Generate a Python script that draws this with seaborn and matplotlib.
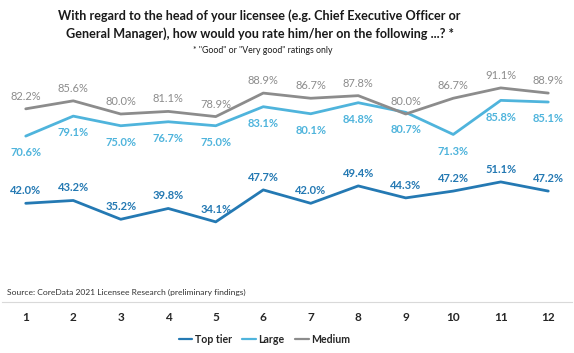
import pandas as pd
import matplotlib.pyplot as plt
import seaborn as sns

# values
questions = [str(i) for i in range(1, 13)]
top_tier = [42.0, 43.2, 35.2, 39.8, 34.1, 47.7, 42.0, 49.4, 44.3, 47.2, 51.1, 47.2]
large = [70.6, 79.1, 75.0, 76.7, 75.0, 83.1, 80.1, 84.8, 80.7, 71.3, 85.8, 85.1]
medium = [82.2, 85.6, 80.0, 81.1, 78.9, 88.9, 86.7, 87.8, 80.0, 86.7, 91.1, 88.9]

series = {"Top tier": top_tier, "Large": large, "Medium": medium}
colors = {"Top tier": "#2479b3", "Large": "#4fb4dc", "Medium": "#8c8c8c"}
label_offset = {"Top tier": 9, "Large": -12, "Medium": 9}

df = pd.DataFrame([
    {"Question": q, "Group": g, "Pct": v}
    for g, vals in series.items() for q, v in zip(questions, vals)
])

sns.set_style("white")
plt.rcParams["font.family"] = ["Lato", "DejaVu Sans"]

fig = plt.figure(figsize=(5.74, 3.53), dpi=100)
ax = fig.add_axes([2 / 574, 51 / 353, 570 / 574, 235 / 353])

sns.lineplot(data=df, x="Question", y="Pct", hue="Group", palette=colors,
             linewidth=2, sort=False, ax=ax, legend=True)

# data labels
for g, vals in series.items():
    for i, v in enumerate(vals):
        ax.annotate(f"{v:.1f}%", (i, v), xytext=(0, label_offset[g]),
                    textcoords="offset points", ha="center", va="center",
                    fontsize=8, color=colors[g],
                    fontweight="bold" if g != "Medium" else "normal")

ax.set_xlim(-0.5, 11.5)
ax.set_ylim(0, 100)
ax.set_yticks([])
ax.set_xlabel("")
ax.set_ylabel("")
for side in ["top", "left", "right"]:
    ax.spines[side].set_visible(False)
ax.spines["bottom"].set_color("#d9d9d9")
ax.spines["bottom"].set_linewidth(0.8)
ax.tick_params(axis="x", length=0, pad=7)
for t in ax.get_xticklabels():
    t.set_fontweight("bold")
    t.set_fontsize(8.5)

ax.text(0.008, 0.04, "Source: CoreData 2021 Licensee Research (preliminary findings)",
        transform=ax.transAxes, fontsize=6.1, color="#333333", va="center")

leg = ax.legend(loc="upper center", bbox_to_anchor=(0.46, -0.095), ncol=3,
                frameon=False, fontsize=7.6, handlelength=1.3, handletextpad=0.2,
                columnspacing=1.0)
for line in leg.get_lines():
    line.set_linewidth(1.6)
for t in leg.get_texts():
    t.set_fontweight("bold")

fig.text(0.452, 0.93, "With regard to the head of your licensee (e.g. Chief Executive Officer or\n"
         "General Manager), how would you rate him/her on the following ...? *",
         ha="center", va="center", fontsize=9.1, fontweight="bold",
         linespacing=1.55, color="#1a1a1a")
fig.text(0.457, 0.857, '* "Good" or "Very good" ratings only', ha="center",
         va="center", fontsize=6.3, color="#1a1a1a")

fig.savefig("out.png", dpi=100)
